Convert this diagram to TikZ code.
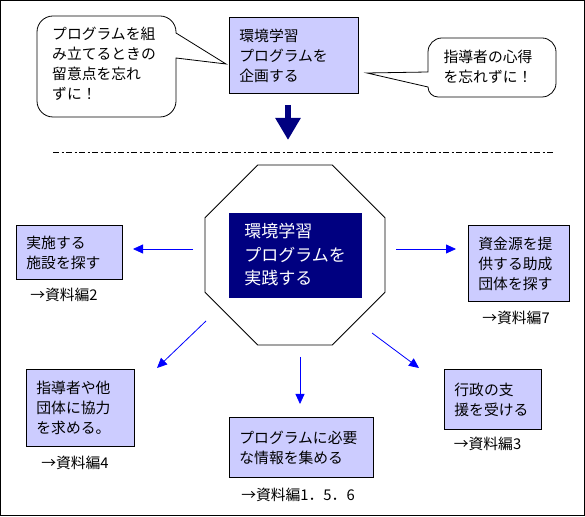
\documentclass[tikz,border=0pt]{standalone}
\usepackage{fontspec}
\setmainfont{Noto Sans CJK JP}
\usetikzlibrary{shapes.geometric,arrows.meta}
\definecolor{boxfill}{HTML}{CCCCFF}
\definecolor{navyc}{HTML}{000080}
\definecolor{arrowblue}{HTML}{0000FF}
\begin{document}
\begin{tikzpicture}[x=1pt,y=1pt,
  txt/.style={font=\fontsize{14.8}{20}\selectfont},
  infobox/.style={draw, fill=boxfill, line width=0.8pt, anchor=north west, align=left, inner xsep=10pt, inner ysep=0pt, txt},
  reflabel/.style={txt, inner sep=0pt},
  link/.style={draw=arrowblue, line width=0.8pt, -{Triangle[length=10pt,width=9pt]}},
  callout/.style={draw, line width=0.8pt, fill=white},
  calltext/.style={txt, align=left, inner sep=0pt}]

\useasboundingbox (0,0) rectangle (585,516);
\draw[line width=1pt] (0.5,0.5) rectangle (584.5,515.5);

% top part
\node[infobox, text width=109pt, minimum height=76pt] (plan) at (229,499) {環境学習\\プログラムを\\企画する};

\draw[callout] (53,500) -- (160,500) arc[start angle=90,end angle=0,radius=16]
  -- (176,483) -- (226,452) -- (176,458) -- (176,415)
  arc[start angle=0,end angle=-90,radius=16] -- (53,399)
  arc[start angle=270,end angle=180,radius=16] -- (37,484)
  arc[start angle=180,end angle=90,radius=16] -- cycle;
\node[calltext] (noteL) at (104,452) {プログラムを組\\み立てるときの\\留意点を忘れ\\ずに！};

\draw[callout] (442,478) -- (542,478) arc[start angle=90,end angle=0,radius=14]
  -- (556,433) arc[start angle=0,end angle=-90,radius=14] -- (438,419)
  arc[start angle=270,end angle=180,radius=10] -- (428,429) -- (367,443)
  -- (428,444) -- (428,464) arc[start angle=180,end angle=90,radius=14] -- cycle;
\node[calltext] (noteR) at (488,449) {指導者の心得\\を忘れずに！};

\coordinate (bigA) at (288,411);
\coordinate (bigB) at (288,376);
\draw[navyc, line width=6pt, -{Triangle[length=22pt,width=24pt]}] (bigA) -- (bigB);

\coordinate (dl) at (53,363);
\coordinate (dr) at (555,363);
\draw[line width=1pt, dash pattern=on 6pt off 2.5pt on 2pt off 2.5pt] (dl) -- (dr);

% center
\node[draw, regular polygon, regular polygon sides=8, minimum size=194.8pt, inner sep=0pt, line width=0.8pt] (oct) at (295,261) {};
\node[fill=navyc, draw=navyc, text=white, minimum width=132pt, minimum height=84pt, inner sep=0pt, align=left, font=\fontsize{17}{23.5}\selectfont] (act) at (295,261) {環境学習\\プログラムを\\実践する};

% surrounding boxes
\node[infobox, text width=86pt, minimum height=54pt] (fac) at (16,291) {実施する\\施設を探す};
\node[reflabel] (ref2) at (64,221) {→資料編2};

\node[infobox, text width=81pt, minimum height=76pt] (fund) at (468,291) {資金源を提\\供する助成\\団体を探す};
\node[reflabel] (ref7) at (516,198) {→資料編7};

\node[infobox, text width=88pt, minimum height=77pt] (coop) at (26,147) {指導者や他\\団体に協力\\を求める。};
\node[reflabel] (ref4) at (75,53) {→資料編4};

\node[infobox, text width=124pt, minimum height=60pt] (info) at (229,99) {プログラムに必要\\な情報を集める};
\node[reflabel] (ref156) at (298,21) {→資料編1．5．6};

\node[infobox, text width=77pt, minimum height=60pt] (gov) at (444,147) {行政の支\\援を受ける};
\node[reflabel] (ref3) at (487.5,72) {→資料編3};

% arrows
\coordinate (aLs) at (193,267); \coordinate (aLe) at (133,267);
\coordinate (aRs) at (396,267); \coordinate (aRe) at (456,267);
\coordinate (aBLs) at (206,195); \coordinate (aBLe) at (157,148);
\coordinate (aBMs) at (300,159); \coordinate (aBMe) at (300,112);
\coordinate (aBRs) at (372,183); \coordinate (aBRe) at (419,148);
\draw[link] (aLs) -- (aLe);
\draw[link] (aRs) -- (aRe);
\draw[link] (aBLs) -- (aBLe);
\draw[link] (aBMs) -- (aBMe);
\draw[link] (aBRs) -- (aBRe);
\end{tikzpicture}
\end{document}
